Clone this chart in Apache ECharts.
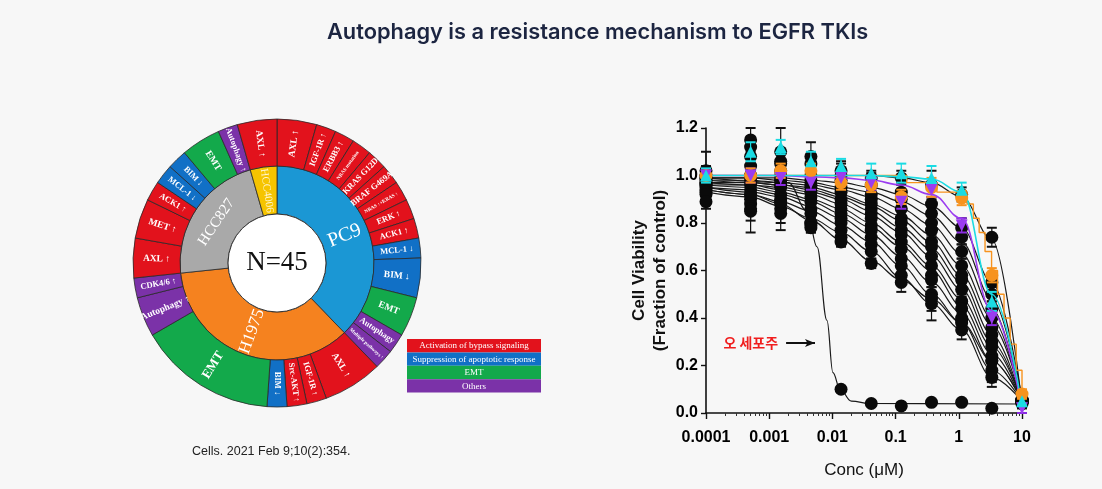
<!DOCTYPE html>
<html>
<head>
<meta charset="utf-8">
<title>Autophagy is a resistance mechanism to EGFR TKIs</title>
<script src="https://cdn.jsdelivr.net/npm/echarts@6.0.0/dist/echarts.min.js"></script>
<style>
  html, body { margin: 0; padding: 0; background: #f7f7f7; }
  #chart { width: 1102px; height: 489px; }
</style>
</head>
<body>
<div id="chart"></div>
<script>
// ---- sunburst data (cell line -> resistance mechanism, N=45) ----
const cellLines = ['PC9', 'H1975', 'HCC827', 'HCC4006'];
const cellLineColors = ['#1b97d4', '#f5821f', '#a9a9a9', '#f6c400'];

const pc9Names = ['AXL ↑', 'IGF-1R ↑', 'ERBB3 ↑', 'NRAS mutation', 'KRAS G12D', 'BRAF G469A', 'NRAS ↑+KRAS ↑', 'ERK ↑', 'ACK1 ↑', 'MCL-1 ↓', 'BIM ↓', 'EMT', 'Autophagy', 'Multiple pathways ↑'];
const pc9Counts = [2, 1, 1, 1, 1, 1, 1, 1, 1, 1, 2, 2, 1, 1];
const pc9Kinds = ['B', 'B', 'B', 'B', 'B', 'B', 'B', 'B', 'B', 'A', 'A', 'E', 'O', 'O'];

const h1975Names = ['AXL ↑', 'IGF-1R ↑', 'Src-AKT ↑', 'BIM ↓', 'EMT', 'Autophagy ↑', 'CDK4/6 ↑'];
const h1975Counts = [3, 1, 1, 1, 7, 2, 1];
const h1975Kinds = ['B', 'B', 'B', 'A', 'E', 'O', 'O'];

const hcc827Names = ['AXL ↑', 'MET ↑', 'ACK1 ↑', 'MCL-1 ↓', 'BIM ↓', 'EMT', 'Autophagy ↑'];
const hcc827Counts = [2, 2, 1, 1, 1, 2, 1];
const hcc827Kinds = ['B', 'B', 'B', 'A', 'A', 'E', 'O'];

const hcc4006Names = ['AXL ↑'];
const hcc4006Counts = [2];
const hcc4006Kinds = ['B'];

const mechanismKinds = ['B', 'A', 'E', 'O'];
const mechanismLabels = ['Activation of bypass signaling', 'Suppression of apoptotic response', 'EMT', 'Others'];
const mechanismColors = ['#e2121c', '#1170c6', '#13a94b', '#7b32a8'];

// ---- dose response data ----
const doses = [0.0001, 0.000508, 0.00152, 0.00457, 0.0137, 0.0412, 0.123, 0.37, 1.11, 3.33, 10];
const xTicks = ['0.0001', '0.001', '0.01', '0.1', '1', '10'];

const blackFits = [
  [1.00, 1.00, 1.00, 1.00, 1.00, 1.00, 0.99, 0.97, 0.91, 0.73, 0.04],
  [0.99, 0.99, 0.99, 0.98, 0.97, 0.95, 0.92, 0.87, 0.78, 0.55, 0.06],
  [0.99, 0.99, 0.98, 0.97, 0.95, 0.93, 0.89, 0.83, 0.72, 0.48, 0.06],
  [0.98, 0.98, 0.97, 0.96, 0.94, 0.91, 0.86, 0.79, 0.67, 0.44, 0.05],
  [0.98, 0.97, 0.96, 0.95, 0.92, 0.88, 0.83, 0.75, 0.62, 0.40, 0.05],
  [0.97, 0.97, 0.96, 0.94, 0.91, 0.87, 0.81, 0.72, 0.58, 0.37, 0.06],
  [0.97, 0.96, 0.95, 0.93, 0.90, 0.85, 0.78, 0.69, 0.55, 0.33, 0.05],
  [0.96, 0.96, 0.94, 0.92, 0.88, 0.83, 0.76, 0.66, 0.52, 0.30, 0.05],
  [0.96, 0.95, 0.93, 0.90, 0.86, 0.80, 0.72, 0.62, 0.48, 0.28, 0.05],
  [0.95, 0.94, 0.92, 0.89, 0.84, 0.78, 0.70, 0.60, 0.45, 0.25, 0.05],
  [0.95, 0.93, 0.91, 0.87, 0.82, 0.75, 0.66, 0.55, 0.42, 0.22, 0.05],
  [0.94, 0.92, 0.89, 0.85, 0.79, 0.72, 0.62, 0.50, 0.38, 0.18, 0.05],
  [0.93, 0.91, 0.87, 0.82, 0.76, 0.68, 0.57, 0.46, 0.35, 0.15, 0.05],
  [0.94, 0.92, 0.88, 0.81, 0.73, 0.64, 0.56, 0.48, 0.38, 0.22, 0.05]
];
const blackMeans = [
  [1.00, 1.15, 1.10, 1.08, 1.02, 0.99, 0.99, 0.96, 0.92, 0.74, 0.04],
  [1.02, 1.12, 1.05, 1.05, 1.00, 0.96, 0.93, 0.88, 0.78, 0.55, 0.05],
  [0.99, 1.08, 1.06, 1.00, 0.98, 0.92, 0.90, 0.84, 0.74, 0.50, 0.06],
  [1.00, 1.04, 1.02, 0.98, 0.95, 0.90, 0.86, 0.80, 0.68, 0.44, 0.05],
  [0.98, 1.00, 1.00, 0.96, 0.93, 0.88, 0.82, 0.77, 0.62, 0.40, 0.06],
  [0.97, 0.98, 0.98, 0.95, 0.90, 0.86, 0.80, 0.72, 0.58, 0.36, 0.05],
  [0.96, 0.96, 0.96, 0.93, 0.88, 0.84, 0.77, 0.70, 0.56, 0.33, 0.05],
  [0.97, 0.94, 0.95, 0.91, 0.86, 0.82, 0.75, 0.66, 0.52, 0.30, 0.05],
  [0.96, 0.92, 0.92, 0.89, 0.84, 0.79, 0.72, 0.62, 0.47, 0.28, 0.05],
  [0.95, 0.90, 0.90, 0.86, 0.82, 0.77, 0.69, 0.58, 0.44, 0.24, 0.05],
  [0.94, 0.88, 0.88, 0.84, 0.80, 0.74, 0.65, 0.56, 0.40, 0.22, 0.05],
  [0.93, 0.86, 0.86, 0.80, 0.77, 0.71, 0.62, 0.50, 0.38, 0.18, 0.05],
  [0.92, 0.85, 0.84, 0.79, 0.74, 0.68, 0.58, 0.46, 0.35, 0.15, 0.04],
  [0.89, 0.92, 0.89, 0.80, 0.72, 0.63, 0.55, 0.48, 0.39, 0.22, 0.05]
];
const blackErrs = [
  [0.04, 0.05, 0.10, 0.06, 0.03, 0.03, 0.03, 0.06, 0.03, 0.04, 0.02],
  [0.08, 0.04, 0.05, 0.04, 0.06, 0.05, 0.04, 0.03, 0.04, 0.04, 0.02],
  [0.05, 0.03, 0.04, 0.04, 0.03, 0.03, 0.04, 0.03, 0.03, 0.03, 0.02],
  [0.03, 0.03, 0.03, 0.03, 0.03, 0.04, 0.03, 0.04, 0.03, 0.03, 0.02],
  [0.03, 0.03, 0.03, 0.03, 0.03, 0.03, 0.03, 0.03, 0.03, 0.03, 0.02],
  [0.03, 0.03, 0.03, 0.03, 0.03, 0.03, 0.03, 0.03, 0.03, 0.03, 0.02],
  [0.03, 0.03, 0.03, 0.03, 0.03, 0.03, 0.03, 0.03, 0.03, 0.03, 0.02],
  [0.03, 0.03, 0.03, 0.03, 0.03, 0.03, 0.03, 0.03, 0.03, 0.03, 0.02],
  [0.03, 0.03, 0.03, 0.03, 0.03, 0.03, 0.03, 0.03, 0.03, 0.03, 0.02],
  [0.03, 0.03, 0.03, 0.03, 0.03, 0.03, 0.03, 0.03, 0.03, 0.04, 0.02],
  [0.03, 0.03, 0.03, 0.03, 0.03, 0.03, 0.03, 0.03, 0.03, 0.04, 0.02],
  [0.03, 0.10, 0.09, 0.03, 0.03, 0.03, 0.03, 0.03, 0.04, 0.05, 0.02],
  [0.03, 0.04, 0.04, 0.03, 0.03, 0.03, 0.03, 0.03, 0.04, 0.04, 0.02],
  [0.03, 0.04, 0.04, 0.03, 0.02, 0.02, 0.04, 0.09, 0.04, 0.05, 0.02]
];

const cyanFit = [1.00, 1.00, 1.00, 1.00, 1.00, 1.00, 0.995, 0.985, 0.93, 0.50, 0.03];
const cyanMeans = [1.00, 1.10, 1.12, 1.06, 1.04, 1.01, 1.01, 0.99, 0.94, 0.47, 0.05];
const cyanErrs = [0.03, 0.04, 0.03, 0.04, 0.03, 0.04, 0.04, 0.05, 0.03, 0.04, 0.02];

const orangeStepX = [0.0001, 0.123, 0.15, 0.37, 0.45, 1.11, 1.35, 1.7, 2.1, 2.6, 3.3, 4.1, 5.2, 6.5, 8.1, 10];
const orangeStepY = [1.00, 1.00, 0.97, 0.97, 0.93, 0.93, 0.88, 0.82, 0.76, 0.68, 0.60, 0.50, 0.40, 0.29, 0.18, 0.07];
const orangeMeans = [1.00, 1.00, 1.02, 1.02, 0.97, 0.96, 0.91, 0.95, 0.905, 0.58, 0.08];
const orangeErrs = [0.02, 0.03, 0.03, 0.03, 0.03, 0.03, 0.03, 0.04, 0.03, 0.03, 0.02];

const purpleFit = [1.00, 1.00, 1.00, 0.995, 0.99, 0.98, 0.96, 0.92, 0.82, 0.43, 0.02];
const purpleMeans = [1.00, 1.00, 0.99, 0.97, 0.99, 0.97, 0.89, 0.94, 0.79, 0.40, 0.02];
const purpleErrs = [0.02, 0.03, 0.03, 0.03, 0.03, 0.03, 0.03, 0.03, 0.03, 0.03, 0.02];

// sensitive cell line ("오 세포주")
const sensFitX = [0.0001, 0.002, 0.004, 0.0057, 0.0082, 0.0102, 0.0132, 0.02, 0.04, 10];
const sensFitY = [0.99, 0.97, 0.85, 0.70, 0.39, 0.17, 0.10, 0.05, 0.04, 0.038];
const sensMeans = [0.99, 1.00, 0.98, 0.78, 0.10, 0.04, 0.03, 0.045, 0.045, 0.02, 0.05];
const sensErrs = [0.02, 0.02, 0.02, 0.02, 0.01, 0.01, 0.01, 0.01, 0.01, 0.01, 0.01];

// ---- build sunburst tree ----
const tinyLabels = ['NRAS mutation', 'NRAS ↑+KRAS ↑', 'Multiple pathways ↑'];
function kindColor(k) {
  return mechanismColors[mechanismKinds.indexOf(k)];
}
function children(names, counts, kinds) {
  return names.map((n, i) => ({
    name: n,
    value: counts[i],
    itemStyle: { color: kindColor(kinds[i]) },
    label: {
      fontSize: tinyLabels.includes(n) ? 5 : (counts[i] >= 7 ? 13 : counts[i] >= 2 ? 9.5 : 8.5)
    }
  }));
}
const groups = [
  children(pc9Names, pc9Counts, pc9Kinds),
  children(h1975Names, h1975Counts, h1975Kinds),
  children(hcc827Names, hcc827Counts, hcc827Kinds),
  children(hcc4006Names, hcc4006Counts, hcc4006Kinds)
];
const innerLabelSize = { PC9: 20, H1975: 17, HCC827: 15, HCC4006: 11 };
const sunData = cellLines.map((c, i) => ({
  name: c,
  itemStyle: { color: cellLineColors[i] },
  label: {
    fontSize: innerLabelSize[c],
    rotate: c === 'HCC827' ? 'tangential' : 'radial',
    color: c === 'HCC4006' ? '#fff6d0' : '#ffffff'
  },
  children: groups[i]
}));

// ---- error bars through the axis scales ----
function errRows(means, errs) {
  return doses.map((d, i) => [d, means[i] - errs[i], means[i] + errs[i]]);
}
function errorBars(rows, color, z) {
  return {
    type: 'custom',
    z: z,
    silent: true,
    encode: { x: 0, y: [1, 2] },
    data: rows,
    renderItem: function (params, api) {
      const lo = api.coord([api.value(0), api.value(1)]);
      const hi = api.coord([api.value(0), api.value(2)]);
      const w = 5;
      const st = { stroke: color, lineWidth: 1.2 };
      return {
        type: 'group',
        children: [
          { type: 'line', shape: { x1: lo[0], y1: lo[1], x2: hi[0], y2: hi[1] }, style: st },
          { type: 'line', shape: { x1: lo[0] - w, y1: lo[1], x2: lo[0] + w, y2: lo[1] }, style: { stroke: color, lineWidth: 2 } },
          { type: 'line', shape: { x1: hi[0] - w, y1: hi[1], x2: hi[0] + w, y2: hi[1] }, style: { stroke: color, lineWidth: 2 } }
        ]
      };
    }
  };
}
const pairs = (ys) => doses.map((d, i) => [d, ys[i]]);

const series = [];

// black error bars
let allBlackErr = [];
blackMeans.forEach((m, k) => { allBlackErr = allBlackErr.concat(errRows(m, blackErrs[k])); });
allBlackErr = allBlackErr.concat(errRows(sensMeans, sensErrs));
series.push(errorBars(allBlackErr, '#111', 1));

// black fitted curves
blackFits.forEach((f) => {
  series.push({
    type: 'line', z: 2, silent: true, showSymbol: false,
    smooth: 0.35, smoothMonotone: 'x',
    data: pairs(f),
    lineStyle: { color: '#1a1a1a', width: 1.2 }
  });
});
// sensitive line fit
series.push({
  type: 'line', z: 2, silent: true, showSymbol: false,
  smooth: 0.4, smoothMonotone: 'x',
  data: sensFitX.map((x, i) => [x, sensFitY[i]]),
  lineStyle: { color: '#1a1a1a', width: 1.2 },
  markLine: {
    silent: true,
    animation: false,
    symbol: ['none', 'arrow'],
    symbolSize: [6, 10],
    lineStyle: { color: '#111', width: 2, type: 'solid' },
    label: {
      show: true, position: 'start', distance: 8,
      formatter: '오 세포주',
      color: '#f01e1e', fontSize: 14, fontWeight: 'bold',
      fontFamily: 'Noto Sans CJK KR'
    },
    data: [[{ coord: [0.00185, 0.295] }, { coord: [0.0053, 0.295] }]]
  }
});
// black points
blackMeans.concat([sensMeans]).forEach((m) => {
  series.push({
    type: 'scatter', z: 3, silent: true,
    symbol: 'circle', symbolSize: 13,
    data: pairs(m),
    itemStyle: { color: '#0a0a0a', opacity: 1 }
  });
});

// coloured lines
series.push(errorBars(errRows(purpleMeans, purpleErrs), '#8a2be2', 4));
series.push(errorBars(errRows(orangeMeans, orangeErrs), '#f7931e', 4));
series.push(errorBars(errRows(cyanMeans, cyanErrs), '#1adbe3', 4));
series.push({
  type: 'line', z: 5, silent: true, showSymbol: false,
  step: 'end',
  data: orangeStepX.map((x, i) => [x, orangeStepY[i]]),
  lineStyle: { color: '#f7931e', width: 1.4 }
});
series.push({
  type: 'line', z: 5, silent: true, showSymbol: false,
  smooth: 0.4, smoothMonotone: 'x',
  data: pairs(purpleFit),
  lineStyle: { color: '#9b3cf0', width: 1.6 }
});
series.push({
  type: 'line', z: 5, silent: true, showSymbol: false,
  smooth: 0.4, smoothMonotone: 'x',
  data: pairs(cyanFit),
  lineStyle: { color: '#1adbe3', width: 1.6 }
});
series.push({
  type: 'scatter', z: 6, silent: true, symbol: 'circle', symbolSize: 13,
  data: pairs(orangeMeans), itemStyle: { color: '#f7931e', opacity: 1 }
});
series.push({
  type: 'scatter', z: 6, silent: true, symbol: 'triangle', symbolSize: 12, symbolRotate: 180,
  data: pairs(purpleMeans), itemStyle: { color: '#9b3cf0', opacity: 1 }
});
series.push({
  type: 'scatter', z: 6, silent: true, symbol: 'triangle', symbolSize: 12,
  data: pairs(cyanMeans), itemStyle: { color: '#1adbe3', opacity: 1 }
});

// sunburst + centre disc
series.push({
  type: 'sunburst',
  center: [277, 263],
  radius: [49, 144],
  sort: null,
  startAngle: 90,
  nodeClick: false,
  emphasis: { disabled: true },
  itemStyle: { borderColor: '#2a2a2a', borderWidth: 0.8 },
  label: { fontFamily: 'Liberation Serif', color: '#fff' },
  levels: [
    {},
    {
      r0: 49, r: 97,
      label: { rotate: 'radial', fontSize: 18, fontFamily: 'Liberation Serif', color: '#fff' }
    },
    {
      r0: 97, r: 144,
      label: { rotate: 'radial', fontSize: 8.5, fontWeight: 'bold', fontFamily: 'Liberation Serif', color: '#fff' }
    }
  ],
  data: sunData
});
series.push({
  type: 'pie',
  center: [277, 263],
  radius: [0, 49],
  silent: true,
  z: 3,
  itemStyle: { color: '#ffffff', borderColor: '#333', borderWidth: 1 },
  label: {
    position: 'center', formatter: 'N=45',
    fontSize: 27, color: '#111', fontFamily: 'Liberation Serif'
  },
  labelLine: { show: false },
  data: [{ value: 45, name: 'N=45' }]
});

// legend box beside sunburst
const legendGraphics = mechanismLabels.map((t, i) => ({
  type: 'group',
  left: 407,
  top: 339 + i * 13.4,
  children: [
    { type: 'rect', shape: { x: 0, y: 0, width: 134, height: 13.4 }, style: { fill: mechanismColors[i] } },
    {
      type: 'text', x: 67, y: 7,
      style: {
        text: t, fill: '#fff', font: '9px "Liberation Serif"',
        align: 'center', verticalAlign: 'middle'
      }
    }
  ]
}));

const chart = echarts.init(document.getElementById('chart'));
chart.setOption({
  backgroundColor: '#f7f7f7',
  animation: false,
  title: {
    text: 'Autophagy is a resistance mechanism to EGFR TKIs',
    left: 322, top: 16,
    textStyle: { fontSize: 21.8, fontWeight: 600, color: '#1c2541', fontFamily: 'Inter' }
  },
  graphic: legendGraphics.concat([
    {
      type: 'text', left: 192, top: 445,
      style: { text: 'Cells. 2021 Feb 9;10(2):354.', fill: '#222', font: '12.5px "Liberation Sans"' }
    }
  ]),
  grid: { left: 706, right: 80, top: 128, bottom: 76 },
  xAxis: {
    type: 'log', logBase: 10, min: 0.0001, max: 10,
    name: 'Conc (μM)', nameLocation: 'middle', nameGap: 49,
    nameTextStyle: { fontSize: 17, color: '#111', fontFamily: 'Liberation Sans' },
    axisLine: { lineStyle: { color: '#111', width: 1.6 } },
    axisTick: { length: 6, lineStyle: { color: '#111', width: 1.4 } },
    minorTick: { show: true, splitNumber: 9, length: 3, lineStyle: { color: '#333', width: 1 } },
    splitLine: { show: false },
    minorSplitLine: { show: false },
    axisLabel: {
      margin: 17, color: '#000', fontSize: 16, fontWeight: 'bold', fontFamily: 'Liberation Sans',
      formatter: (v) => xTicks.find((t) => Math.abs(Math.log10(+t) - Math.log10(v)) < 1e-6) || ''
    }
  },
  yAxis: {
    type: 'value', min: 0, max: 1.2, interval: 0.2,
    name: 'Cell Viability\n(Fraction of control)', nameLocation: 'middle', nameGap: 35,
    nameTextStyle: { fontSize: 17, fontWeight: 'bold', color: '#111', lineHeight: 21, fontFamily: 'Liberation Sans' },
    axisLine: { show: true, lineStyle: { color: '#111', width: 1.6 } },
    axisTick: { show: true, length: 5, lineStyle: { color: '#111', width: 1.4 } },
    splitLine: { show: false },
    axisLabel: {
      margin: 8, color: '#000', fontSize: 16, fontWeight: 'bold', fontFamily: 'Liberation Sans',
      formatter: (v) => v.toFixed(1)
    }
  },
  series: series
});
</script>
</body>
</html>
